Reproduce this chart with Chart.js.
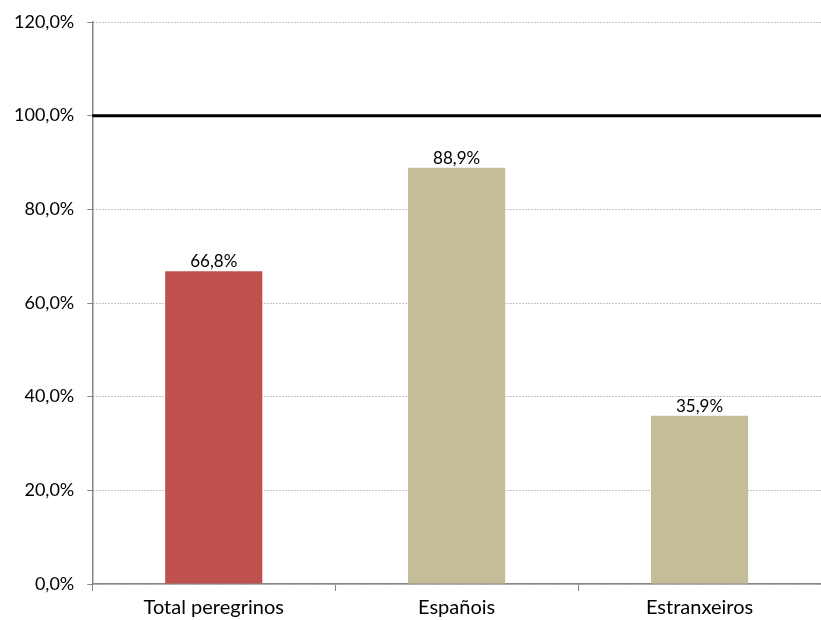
<!DOCTYPE html>
<html>
<head>
<meta charset="utf-8">
<script src="https://cdn.jsdelivr.net/npm/chart.js@4"></script>
<style>
  html, body { margin: 0; padding: 0; background: #fff; }
  #wrap { width: 821px; height: 620px; }
</style>
</head>
<body>
<div id="wrap"><canvas id="chart"></canvas></div>
<script>
// data
const categories = ['Total peregrinos', 'Españois', 'Estranxeiros'];
const values = [66.8, 88.9, 35.9];
const barColors = ['#C0504D', '#C4BD97', '#C4BD97'];
const yTicks = [0, 20, 40, 60, 80, 100, 120];
const targetLine = 100;

function pct(v) {
    return v.toFixed(1).replace('.', ',') + '%';
}

// thick reference line + value labels over the bars
const extras = {
    id: 'extras',
    afterDatasetsDraw(chart) {
        const ctx = chart.ctx;
        const y = chart.scales.y.getPixelForValue(targetLine);
        const area = chart.chartArea;
        ctx.save();
        ctx.strokeStyle = '#000';
        ctx.lineWidth = 3;
        ctx.beginPath();
        ctx.moveTo(area.left, y);
        ctx.lineTo(area.right, y);
        ctx.stroke();

        ctx.fillStyle = '#000';
        ctx.font = '17px Lato';
        ctx.textAlign = 'center';
        ctx.textBaseline = 'bottom';
        chart.getDatasetMeta(0).data.forEach(function (bar, i) {
            ctx.fillText(pct(values[i]), bar.x, bar.y - 1);
        });
        ctx.restore();
    }
};

const ctx = document.getElementById('chart').getContext('2d');
new Chart(ctx, {
    type: 'bar',
    data: {
        labels: categories,
        datasets: [{
            data: values,
            backgroundColor: barColors,
            borderWidth: 0,
            barPercentage: 0.4,
            categoryPercentage: 1
        }]
    },
    options: {
        responsive: true,
        maintainAspectRatio: false,
        animation: false,
        layout: { padding: { top: 9, left: 1, right: 0, bottom: -5 } },
        plugins: {
            legend: { display: false },
            tooltip: { enabled: false }
        },
        scales: {
            x: {
                grid: {
                    offset: true,
                    drawOnChartArea: false,
                    tickLength: 7,
                    tickColor: '#868686'
                },
                border: { color: '#868686', width: 1.5 },
                ticks: {
                    color: '#000',
                    font: { family: 'Lato', size: 20 },
                    padding: 5
                }
            },
            y: {
                min: 0,
                max: 120,
                afterBuildTicks(axis) {
                    axis.ticks = yTicks.map(v => ({ value: v }));
                },
                grid: {
                    color: '#888888',
                    tickLength: 5,
                    tickColor: '#868686'
                },
                border: { color: '#868686', width: 1.5, dash: [1, 2] },
                ticks: {
                    color: '#000',
                    font: { family: 'Lato', size: 18, lineHeight: 1 },
                    padding: 13,
                    callback: v => pct(v)
                }
            }
        }
    },
    plugins: [extras]
});
</script>
</body>
</html>
